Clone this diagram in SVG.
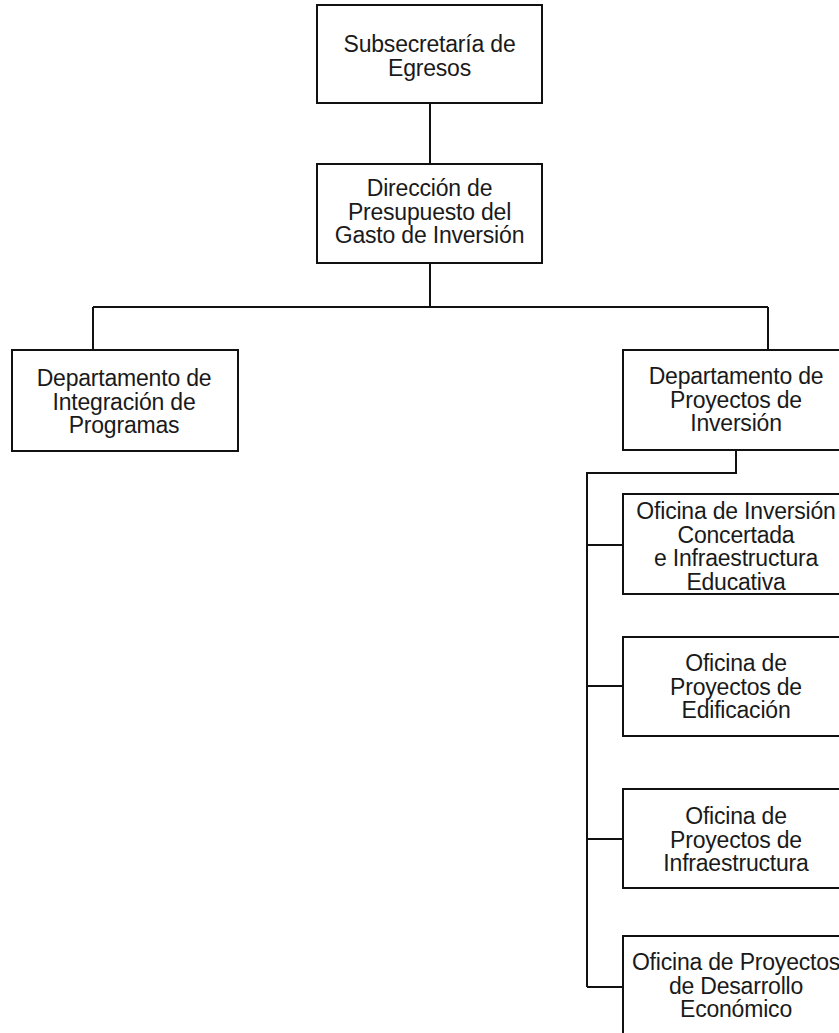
<svg xmlns="http://www.w3.org/2000/svg" width="839" height="1033" viewBox="0 0 839 1033">
<style>
.box{fill:#fff;stroke:#111;stroke-width:2}
.t{font-family:"Liberation Sans",Arial,sans-serif;font-size:23px;letter-spacing:-0.2px;fill:#1a1a1a;text-anchor:middle}
.c{fill:none;stroke:#111;stroke-width:2}
</style>
<rect width="839" height="1033" fill="#fff"/>
<g id="connectors">
<path class="c" d="M430,103V164"/>
<path class="c" d="M430,263V307M93,307H768M93,307V350M768,307V350"/>
<path class="c" d="M736,450V473H587V987"/>
<path class="c" d="M587,545H623M587,686H623M587,839H623M587,987H623"/>
</g>
<g id="n1">
<rect class="box" x="317" y="5" width="225" height="98"/>
<text class="t" x="429.5" y="52">Subsecretaría de</text>
<text class="t" x="429.5" y="75.5">Egresos</text>
</g>
<g id="n2">
<rect class="box" x="317" y="164" width="225" height="99"/>
<text class="t" x="429.5" y="196">Dirección de</text>
<text class="t" x="429.5" y="219.5">Presupuesto del</text>
<text class="t" x="429.5" y="243">Gasto de Inversión</text>
</g>
<g id="n3">
<rect class="box" x="12" y="350" width="226" height="101"/>
<text class="t" x="124" y="386">Departamento de</text>
<text class="t" x="124" y="409.5">Integración de</text>
<text class="t" x="124" y="433">Programas</text>
</g>
<g id="n4">
<rect class="box" x="623" y="350" width="226" height="100"/>
<text class="t" x="736" y="384">Departamento de</text>
<text class="t" x="736" y="407.5">Proyectos de</text>
<text class="t" x="736" y="431">Inversión</text>
</g>
<g id="n5">
<rect class="box" x="623" y="494" width="226" height="100"/>
<text class="t" x="736" y="519">Oficina de Inversión</text>
<text class="t" x="736" y="542.5">Concertada</text>
<text class="t" x="736" y="566">e Infraestructura</text>
<text class="t" x="736" y="589.5">Educativa</text>
</g>
<g id="n6">
<rect class="box" x="623" y="637" width="226" height="99"/>
<text class="t" x="736" y="671">Oficina de</text>
<text class="t" x="736" y="694.5">Proyectos de</text>
<text class="t" x="736" y="718">Edificación</text>
</g>
<g id="n7">
<rect class="box" x="623" y="789" width="226" height="99"/>
<text class="t" x="736" y="824">Oficina de</text>
<text class="t" x="736" y="847.5">Proyectos de</text>
<text class="t" x="736" y="871">Infraestructura</text>
</g>
<g id="n8">
<rect class="box" x="623" y="936" width="226" height="110"/>
<text class="t" x="736" y="970">Oficina de Proyectos</text>
<text class="t" x="736" y="993.5">de Desarrollo</text>
<text class="t" x="736" y="1017">Económico</text>
</g>
</svg>
